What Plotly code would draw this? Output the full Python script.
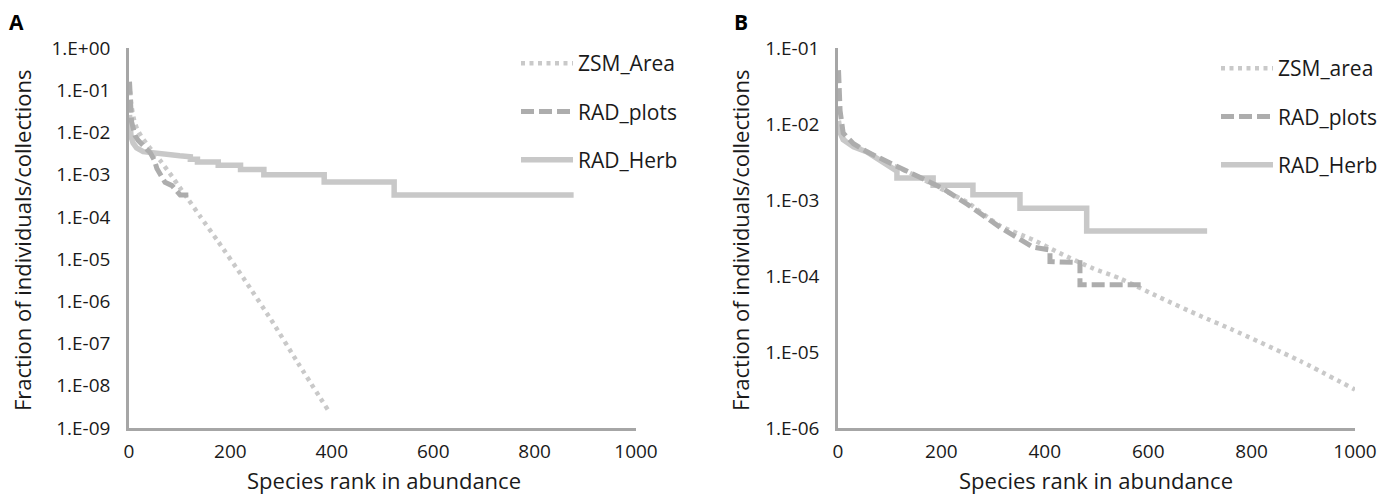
import plotly.graph_objects as go

# ---------------- Panel A ----------------
a_zsm_rank = [1, 3, 6, 10, 16, 26, 40, 61, 80, 100, 115, 141, 174, 226, 280, 333, 394]
a_zsm_frac = [0.15, 0.07, 0.035, 0.02, 0.012, 7.5e-3, 4.5e-3, 2.2e-3, 1.1e-3, 5.0e-4,
              2.8e-4, 1.0e-4, 2.8e-5, 3.5e-6, 3.7e-7, 3.5e-8, 2.5e-9]

a_plots_rank = [1, 2, 3, 5, 8, 12, 18, 26, 35, 42, 50, 55, 61, 71, 85, 95, 101, 120]
a_plots_frac = [0.16, 0.06, 0.025, 0.018, 0.013, 8.5e-3, 6.5e-3, 5.0e-3, 4.0e-3, 3.3e-3,
                2.2e-3, 1.4e-3, 1.1e-3, 6.6e-4, 5.5e-4, 3.9e-4, 3.3e-4, 3.3e-4]

# herbarium curve: smooth head, then one-, two-, three-... collection plateaus
a_herb_rank = [1, 2, 4, 8, 15, 28, 50, 75, 100, 121, 121, 135, 135, 176, 176,
               220, 220, 266, 266, 385, 385, 523, 523, 877]
a_herb_frac = [0.026, 0.015, 8.0e-3, 5.6e-3, 4.3e-3, 3.5e-3, 3.2e-3, 3.0e-3, 2.8e-3,
               2.67e-3, 2.33e-3, 2.33e-3, 2.0e-3, 2.0e-3, 1.67e-3, 1.67e-3, 1.33e-3,
               1.33e-3, 1.0e-3, 1.0e-3, 6.7e-4, 6.7e-4, 3.3e-4, 3.3e-4]

# ---------------- Panel B ----------------
b_zsm_rank = [1, 5, 12, 25, 56, 100, 150, 200, 250, 313, 377, 429, 493, 545, 623, 700, 764, 894, 1000]
b_zsm_frac = [1.1e-2, 7.9e-3, 6.3e-3, 5.6e-3, 4.3e-3, 3.0e-3, 2.1e-3, 1.4e-3, 9.3e-4, 4.6e-4,
              3.0e-4, 2.0e-4, 1.26e-4, 9.3e-5, 5.2e-5, 3.0e-5, 1.95e-5, 7.6e-6, 3.2e-6]

b_plots_rank = [1, 2, 4, 10, 30, 56, 100, 150, 200, 250, 313, 377, 410, 410, 468, 468, 590]
b_plots_frac = [0.051, 0.023, 0.015, 7.6e-3, 5.5e-3, 4.3e-3, 3.1e-3, 2.1e-3, 1.45e-3, 8.8e-4,
                4.4e-4, 2.4e-4, 2.2e-4, 1.55e-4, 1.5e-4, 7.7e-5, 7.7e-5]

b_herb_rank = [1, 3, 10, 30, 56, 87, 105, 114, 114, 184, 184, 261, 261, 352, 352, 481, 481, 714]
b_herb_frac = [0.011, 8.0e-3, 6.2e-3, 5.0e-3, 4.3e-3, 3.1e-3, 2.6e-3, 2.4e-3, 1.95e-3,
               1.95e-3, 1.56e-3, 1.56e-3, 1.17e-3, 1.17e-3, 7.8e-4, 7.8e-4, 3.9e-4, 3.9e-4]

# ---------------- Axis ticks ----------------
x_ticks = [0, 200, 400, 600, 800, 1000]
a_y_exp = [0, -1, -2, -3, -4, -5, -6, -7, -8, -9]
a_y_text = ["1.E+00", "1.E-01", "1.E-02", "1.E-03", "1.E-04",
            "1.E-05", "1.E-06", "1.E-07", "1.E-08", "1.E-09"]
b_y_exp = [-1, -2, -3, -4, -5, -6]
b_y_text = ["1.E-01", "1.E-02", "1.E-03", "1.E-04", "1.E-05", "1.E-06"]

FONT = "Open Sans"
TXT = "#1a1a1a"
AXIS_C = "#a6a6a6"
ZSM_C = "#c9c9c9"
PLOTS_C = "#adadad"
HERB_C = "#c8c8c8"

W, H = 1393, 497


def px_x(p):
    return p / W


def px_y(p):
    return 1 - p / H


fig = go.Figure()


def add_panel(xa, ya, leg, zsm_name, zr, zf, pr, pf, hr, hf):
    fig.add_trace(go.Scatter(
        x=hr, y=hf, name="RAD_Herb", mode="lines",
        line=dict(color=HERB_C, width=5.5), xaxis=xa, yaxis=ya,
        legend=leg, legendgroup=leg + "h", legendrank=3))
    fig.add_trace(go.Scatter(
        x=zr, y=zf, name=zsm_name, mode="lines", line_shape="spline",
        line=dict(color=ZSM_C, width=4.5, dash="4px,4.5px", smoothing=0.6),
        xaxis=xa, yaxis=ya, legend=leg, legendgroup=leg + "z", legendrank=1))
    fig.add_trace(go.Scatter(
        x=pr, y=pf, name="RAD_plots", mode="lines",
        line=dict(color=PLOTS_C, width=5, dash="13px,5px"),
        xaxis=xa, yaxis=ya, legend=leg, legendgroup=leg + "p", legendrank=2))


add_panel("x", "y", "legend", "ZSM_Area",
          a_zsm_rank, a_zsm_frac, a_plots_rank, a_plots_frac, a_herb_rank, a_herb_frac)
add_panel("x2", "y2", "legend2", "ZSM_area",
          b_zsm_rank, b_zsm_frac, b_plots_rank, b_plots_frac, b_herb_rank, b_herb_frac)

tick_font = dict(family=FONT, size=19, color=TXT)
common_x = dict(range=[0, 1000], tickvals=x_ticks, showgrid=False, zeroline=False,
                showline=True, linecolor=AXIS_C, linewidth=2.5, ticks="",
                tickfont=tick_font, ticklabelstandoff=4, automargin=False)
common_y = dict(type="log", showgrid=False, zeroline=False, showline=True,
                linecolor=AXIS_C, linewidth=2.5, ticks="", tickfont=tick_font,
                ticklabelstandoff=12, automargin=False)

y_dom = [px_y(428), px_y(48)]
fig.update_layout(
    xaxis=dict(domain=[px_x(129), px_x(636)], anchor="y", **common_x),
    yaxis=dict(domain=y_dom, anchor="x", range=[-9, 0],
               tickvals=[10 ** e for e in a_y_exp], ticktext=a_y_text, **common_y),
    xaxis2=dict(domain=[px_x(838), px_x(1355)], anchor="y2", **common_x),
    yaxis2=dict(domain=y_dom, anchor="x2", range=[-6, -1],
                tickvals=[10 ** e for e in b_y_exp], ticktext=b_y_text, **common_y),
)

leg_common = dict(font=dict(family=FONT, size=21, color=TXT), bgcolor="rgba(0,0,0,0)",
                  itemwidth=52, tracegroupgap=18, xanchor="left", yanchor="top",
                  traceorder="grouped")
fig.update_layout(
    legend=dict(x=px_x(516), y=px_y(43), **leg_common),
    legend2=dict(x=px_x(1216), y=px_y(48), **leg_common),
)

title_font = dict(family=FONT, size=22, color=TXT)
letter_font = dict(family=FONT, size=21, color="#000")
annos = [
    dict(text="<b>A</b>", x=px_x(16), y=px_y(22), yanchor="middle", font=letter_font),
    dict(text="<b>B</b>", x=px_x(741), y=px_y(22), yanchor="middle", font=letter_font),
    dict(text="Fraction of individuals/collections", x=px_x(22), y=px_y(240),
         yanchor="middle", textangle=-90, font=title_font),
    dict(text="Fraction of individuals/collections", x=px_x(740), y=px_y(240),
         yanchor="middle", textangle=-90, font=title_font),
    dict(text="Species rank in abundance", x=px_x(384), y=0, yanchor="bottom",
         font=title_font),
    dict(text="Species rank in abundance", x=px_x(1096), y=0, yanchor="bottom",
         font=title_font),
]
for a in annos:
    fig.add_annotation(xref="paper", yref="paper", showarrow=False,
                       xanchor="center", **a)

fig.update_layout(
    width=W, height=H, margin=dict(l=0, r=0, t=0, b=0),
    paper_bgcolor="white", plot_bgcolor="white",
)

fig.write_html("out.html")
